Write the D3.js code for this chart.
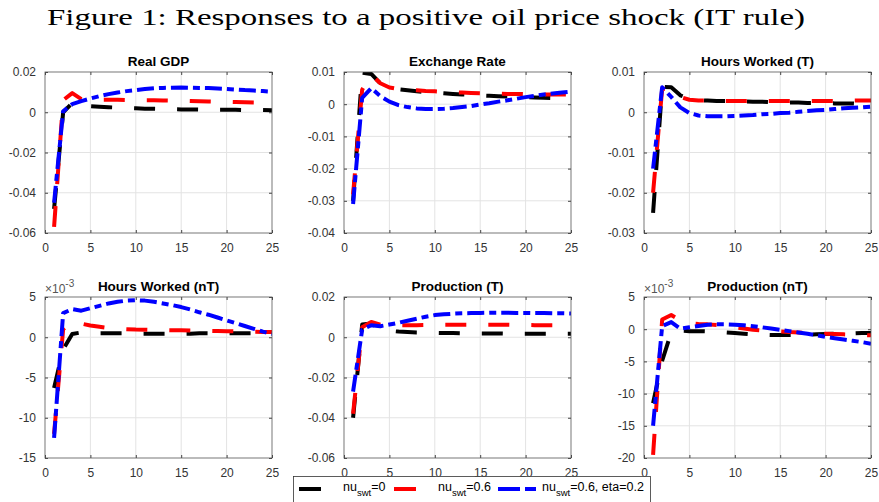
<!DOCTYPE html>
<html>
<head>
<meta charset="utf-8">
<script src="https://cdn.jsdelivr.net/npm/d3@7"></script>
<style>
  body { margin: 0; background: #fff; }
  svg { display: block; }
</style>
</head>
<body>
<div id="chart"></div>
<script>
// horizon (quarters after the shock)
const periods = d3.range(1, 26)

// Real GDP
const gdpBlack = [-0.048, 0.0, 0.0045, 0.0038, 0.003, 0.0027, 0.0025, 0.0023, 0.0021, 0.002, 0.0018, 0.0017, 0.0016, 0.0015, 0.0014, 0.0014, 0.0013, 0.0013, 0.0012, 0.0012, 0.0012, 0.0011, 0.0011, 0.0011, 0.001]
const gdpRed = [-0.057, 0.006, 0.0095, 0.0065, 0.0062, 0.0062, 0.0062, 0.0062, 0.0061, 0.006, 0.006, 0.006, 0.0059, 0.0058, 0.0057, 0.0056, 0.0055, 0.0054, 0.0053, 0.0052, 0.0051, 0.005, 0.0049, 0.0048, 0.0047]
const gdpBlue = [-0.045, 0.0005, 0.004, 0.0055, 0.0068, 0.008, 0.009, 0.0098, 0.0105, 0.011, 0.0115, 0.0119, 0.0121, 0.0122, 0.0123, 0.0122, 0.0121, 0.012, 0.0118, 0.0116, 0.0113, 0.011, 0.0108, 0.0105, 0.0102]

// Exchange Rate
const fxBlack = [-0.030, 0.0098, 0.0094, 0.0065, 0.0052, 0.0046, 0.0043, 0.004, 0.0038, 0.0036, 0.0034, 0.0032, 0.003, 0.0029, 0.0027, 0.0026, 0.0025, 0.0024, 0.0023, 0.0022, 0.0021, 0.002, 0.0019, 0.0018, 0.0017]
const fxRed = [-0.028, 0.0045, 0.0092, 0.0065, 0.0052, 0.0047, 0.0045, 0.0043, 0.0041, 0.004, 0.0038, 0.0037, 0.0036, 0.0035, 0.0034, 0.0033, 0.0033, 0.0032, 0.0032, 0.0031, 0.0031, 0.003, 0.003, 0.003, 0.003]
const fxBlue = [-0.031, 0.002, 0.005, 0.0025, 0.0008, -0.0003, -0.0009, -0.0013, -0.0015, -0.0015, -0.0014, -0.0012, -0.0009, -0.0006, -0.0001, 0.0003, 0.0008, 0.0012, 0.0017, 0.0022, 0.0026, 0.003, 0.0033, 0.0036, 0.0039]

// Hours Worked (T)
const hoursTBlack = [-0.025, 0.0063, 0.0062, 0.0042, 0.0033, 0.003, 0.0029, 0.0028, 0.0028, 0.0027, 0.0027, 0.0026, 0.0026, 0.0025, 0.0025, 0.0024, 0.0024, 0.0023, 0.0023, 0.0023, 0.0022, 0.0022, 0.0022, 0.0021, 0.0021]
const hoursTRed = [-0.020, 0.0058, 0.006, 0.0038, 0.0031, 0.0029, 0.0029, 0.0029, 0.0028, 0.0028, 0.0028, 0.0028, 0.0028, 0.0028, 0.0028, 0.0028, 0.0028, 0.0028, 0.0028, 0.0028, 0.0028, 0.0028, 0.0029, 0.0029, 0.0029]
const hoursTBlue = [-0.014, 0.0062, 0.0038, 0.0012, -0.0002, -0.0008, -0.001, -0.001, -0.001, -0.0009, -0.0008, -0.0007, -0.0005, -0.0004, -0.0002, -0.0001, 0.0001, 0.0003, 0.0005, 0.0006, 0.0008, 0.001, 0.0011, 0.0012, 0.0014]

// Hours Worked (nT), x 10^-3
const hoursNTBlack = [-6.3, -1.5, 0.4, 0.6, 0.5, 0.5, 0.5, 0.5, 0.5, 0.45, 0.45, 0.45, 0.45, 0.45, 0.45, 0.45, 0.5, 0.5, 0.5, 0.5, 0.5, 0.5, 0.5, 0.5, 0.5]
const hoursNTRed = [-12, 1.0, 2.0, 1.7, 1.45, 1.3, 1.15, 1.05, 1.0, 0.95, 0.93, 0.9, 0.89, 0.88, 0.87, 0.85, 0.83, 0.8, 0.78, 0.75, 0.73, 0.7, 0.68, 0.66, 0.65]
const hoursNTBlue = [-12.5, 3.0, 3.5, 3.3, 3.6, 3.9, 4.2, 4.4, 4.55, 4.6, 4.55, 4.4, 4.2, 4.0, 3.75, 3.45, 3.1, 2.8, 2.45, 2.1, 1.75, 1.4, 1.05, 0.7, 0.4]

// Production (T)
const prodTBlack = [-0.04, 0.0063, 0.0068, 0.0042, 0.0032, 0.0028, 0.0026, 0.0024, 0.0023, 0.0022, 0.0021, 0.0021, 0.002, 0.002, 0.0019, 0.0019, 0.0019, 0.0018, 0.0018, 0.0018, 0.0018, 0.0018, 0.0018, 0.0018, 0.0018]
const prodTRed = [-0.038, 0.005, 0.0076, 0.0062, 0.006, 0.006, 0.006, 0.006, 0.0061, 0.0062, 0.0062, 0.0062, 0.0062, 0.0062, 0.0062, 0.0062, 0.0062, 0.0062, 0.0061, 0.0061, 0.006, 0.006, 0.006, 0.006, 0.006]
const prodTBlue = [-0.027, 0.0038, 0.006, 0.0055, 0.0063, 0.0072, 0.0082, 0.0092, 0.0102, 0.011, 0.0114, 0.0117, 0.0119, 0.012, 0.0121, 0.0122, 0.0122, 0.0122, 0.0121, 0.0121, 0.012, 0.012, 0.0119, 0.0119, 0.0118]

// Production (nT), x 10^-3
const prodNTBlack = [-11.5, -4.9, -0.5, -0.2, -0.3, -0.3, -0.35, -0.4, -0.5, -0.6, -0.7, -0.8, -0.85, -0.9, -0.9, -0.9, -0.9, -0.85, -0.8, -0.75, -0.7, -0.7, -0.65, -0.6, -0.6]
const prodNTRed = [-19.5, 1.5, 2.2, 1.4, 0.9, 0.8, 0.75, 0.65, 0.5, 0.3, 0.1, -0.1, -0.2, -0.3, -0.35, -0.45, -0.5, -0.6, -0.65, -0.7, -0.75, -0.8, -0.85, -0.9, -0.95]
const prodNTBlue = [-15, 0.5, 1.1, 0.1, 0.3, 0.5, 0.7, 0.75, 0.75, 0.7, 0.6, 0.45, 0.3, 0.1, -0.1, -0.3, -0.5, -0.7, -0.95, -1.2, -1.4, -1.6, -1.8, -2.0, -2.25]

// panel titles and tick labels
const panelTitles = ['Real GDP', 'Exchange Rate', 'Hours Worked (T)', 'Hours Worked (nT)', 'Production (T)', 'Production (nT)']
const xTicks = [0, 5, 10, 15, 20, 25]
const yTicksGdp = [-0.06, -0.04, -0.02, 0, 0.02]
const yTicksFx = [-0.04, -0.03, -0.02, -0.01, 0, 0.01]
const yTicksHoursT = [-0.03, -0.02, -0.01, 0, 0.01]
const yTicksHoursNT = [-15, -10, -5, 0, 5]
const yTicksProdT = [-0.06, -0.04, -0.02, 0, 0.02]
const yTicksProdNT = [-20, -15, -10, -5, 0, 5]
const expLabels = [false, false, false, true, false, true]

const legendLabels = [['=0'], ['=0.6'], ['=0.6, eta=0.2']]
const seriesColors = ['#000000', '#ff0000', '#0000ff']
const seriesDash = ['21,22', '21,22', '17,5,7,5']

const panels = [
  { title: panelTitles[0], yTicks: yTicksGdp, series: [gdpBlack, gdpRed, gdpBlue], exp: expLabels[0] },
  { title: panelTitles[1], yTicks: yTicksFx, series: [fxBlack, fxRed, fxBlue], exp: expLabels[1] },
  { title: panelTitles[2], yTicks: yTicksHoursT, series: [hoursTBlack, hoursTRed, hoursTBlue], exp: expLabels[2] },
  { title: panelTitles[3], yTicks: yTicksHoursNT, series: [hoursNTBlack, hoursNTRed, hoursNTBlue], exp: expLabels[3] },
  { title: panelTitles[4], yTicks: yTicksProdT, series: [prodTBlack, prodTRed, prodTBlue], exp: expLabels[4] },
  { title: panelTitles[5], yTicks: yTicksProdNT, series: [prodNTBlack, prodNTRed, prodNTBlue], exp: expLabels[5] }
]

const w = 879
const h = 502
const lefts = [45, 344, 644]
const tops = [72, 297]
const pw = 227
const ph = 161
const font = "'Liberation Sans', Arial, Helvetica, sans-serif"

const svg = d3.select('#chart')
              .append('svg')
              .attr('width', w)
              .attr('height', h)
              .style('font-family', font)

// figure title (LaTeX caption style)
svg.append('text')
   .attr('x', 47)
   .attr('y', 25)
   .attr('textLength', 758)
   .attr('lengthAdjust', 'spacingAndGlyphs')
   .style('font-family', "'Liberation Serif', 'DejaVu Serif', serif")
   .style('font-size', '23px')
   .attr('fill', '#000')
   .text('Figure 1: Responses to a positive oil price shock (IT rule)')

const fmt = d => String(Math.round(d * 100) / 100)

panels.forEach((p, i) => {
  const px = lefts[i % 3]
  const py = tops[Math.floor(i / 3)]

  const xScale = d3.scaleLinear().domain([0, 25]).range([0, pw])
  const yScale = d3.scaleLinear()
                   .domain([p.yTicks[0], p.yTicks[p.yTicks.length - 1]])
                   .range([ph, 0])

  const g = svg.append('g').attr('transform', `translate(${px},${py})`)

  g.append('rect')
   .attr('width', pw)
   .attr('height', ph)
   .attr('fill', '#fff')

  // grid
  g.selectAll('.gx')
   .data(xTicks.slice(1, -1))
   .enter()
   .append('line')
   .attr('x1', d => xScale(d)).attr('x2', d => xScale(d))
   .attr('y1', 0).attr('y2', ph)
   .attr('stroke', '#e3e3e3')
  g.selectAll('.gy')
   .data(p.yTicks.slice(1, -1))
   .enter()
   .append('line')
   .attr('y1', d => yScale(d)).attr('y2', d => yScale(d))
   .attr('x1', 0).attr('x2', pw)
   .attr('stroke', '#e3e3e3')

  // lines
  const clipId = 'clip' + i
  g.append('clipPath').attr('id', clipId)
   .append('rect').attr('width', pw).attr('height', ph)

  const line = d3.line()
                 .x((d, k) => xScale(periods[k]))
                 .y(d => yScale(d))

  p.series.forEach((s, k) => {
    g.append('path')
     .datum(s)
     .attr('clip-path', `url(#${clipId})`)
     .attr('d', line)
     .attr('fill', 'none')
     .attr('stroke', seriesColors[k])
     .attr('stroke-width', 4)
     .attr('stroke-dasharray', seriesDash[k])
     .attr('stroke-linejoin', 'round')
  })

  // axes with inward ticks
  const xAxis = d3.axisBottom(xScale).tickValues(xTicks).tickSize(-3).tickPadding(10)
  const yAxis = d3.axisLeft(yScale).tickValues(p.yTicks).tickSize(-3).tickPadding(9).tickFormat(fmt)

  const gx = g.append('g').attr('transform', `translate(0,${ph})`).call(xAxis)
  const gy = g.append('g').call(yAxis)
  g.append('g').call(d3.axisTop(xScale).tickValues(xTicks).tickSize(-3).tickFormat(''))
  g.append('g').attr('transform', `translate(${pw},0)`)
   .call(d3.axisRight(yScale).tickValues(p.yTicks).tickSize(-3).tickFormat(''))

  g.selectAll('.domain').remove()
  g.selectAll('.tick line').attr('stroke', '#444')
  ;[gx, gy].forEach(a => a.selectAll('text')
                          .style('font-family', font)
                          .style('font-size', '12px')
                          .attr('fill', '#333'))

  g.append('rect')
   .attr('width', pw)
   .attr('height', ph)
   .attr('fill', 'none')
   .attr('stroke', '#555')
   .attr('stroke-width', 0.8)

  // panel title
  g.append('text')
   .attr('x', pw / 2)
   .attr('y', -6)
   .attr('text-anchor', 'middle')
   .style('font-size', '13.5px')
   .style('font-weight', 'bold')
   .attr('fill', '#000')
   .text(p.title)

  if (p.exp) {
    const t = g.append('text')
               .attr('x', 0)
               .attr('y', -4)
               .style('font-size', '12px')
               .attr('fill', '#555')
    t.append('tspan').text('\u00d710')
    t.append('tspan').attr('dy', -6).style('font-size', '10px').text('-3')
  }
})

// legend
const lg = svg.append('g')
lg.append('rect')
  .attr('x', 293.5)
  .attr('y', 476.5)
  .attr('width', 357)
  .attr('height', 40)
  .attr('fill', '#fff')
  .attr('stroke', '#333')
  .attr('stroke-width', 0.8)

const sampleX = [299, 394, 498]
const textX = [343, 438, 542]
legendLabels.forEach((lab, k) => {
  lg.append('line')
    .attr('x1', sampleX[k]).attr('x2', sampleX[k] + 38)
    .attr('y1', 489).attr('y2', 489)
    .attr('stroke', seriesColors[k])
    .attr('stroke-width', 4)
    .attr('stroke-dasharray', k === 2 ? '22,5,11,5' : '22,20')
  const t = lg.append('text')
              .attr('x', textX[k])
              .attr('y', 491)
              .style('font-size', '12.5px')
              .attr('fill', '#000')
  t.append('tspan').text('nu')
  t.append('tspan').attr('dy', 5).style('font-size', '9.5px').text('swt')
  t.append('tspan').attr('dy', -5).text(lab[0])
})
</script>
</body>
</html>
